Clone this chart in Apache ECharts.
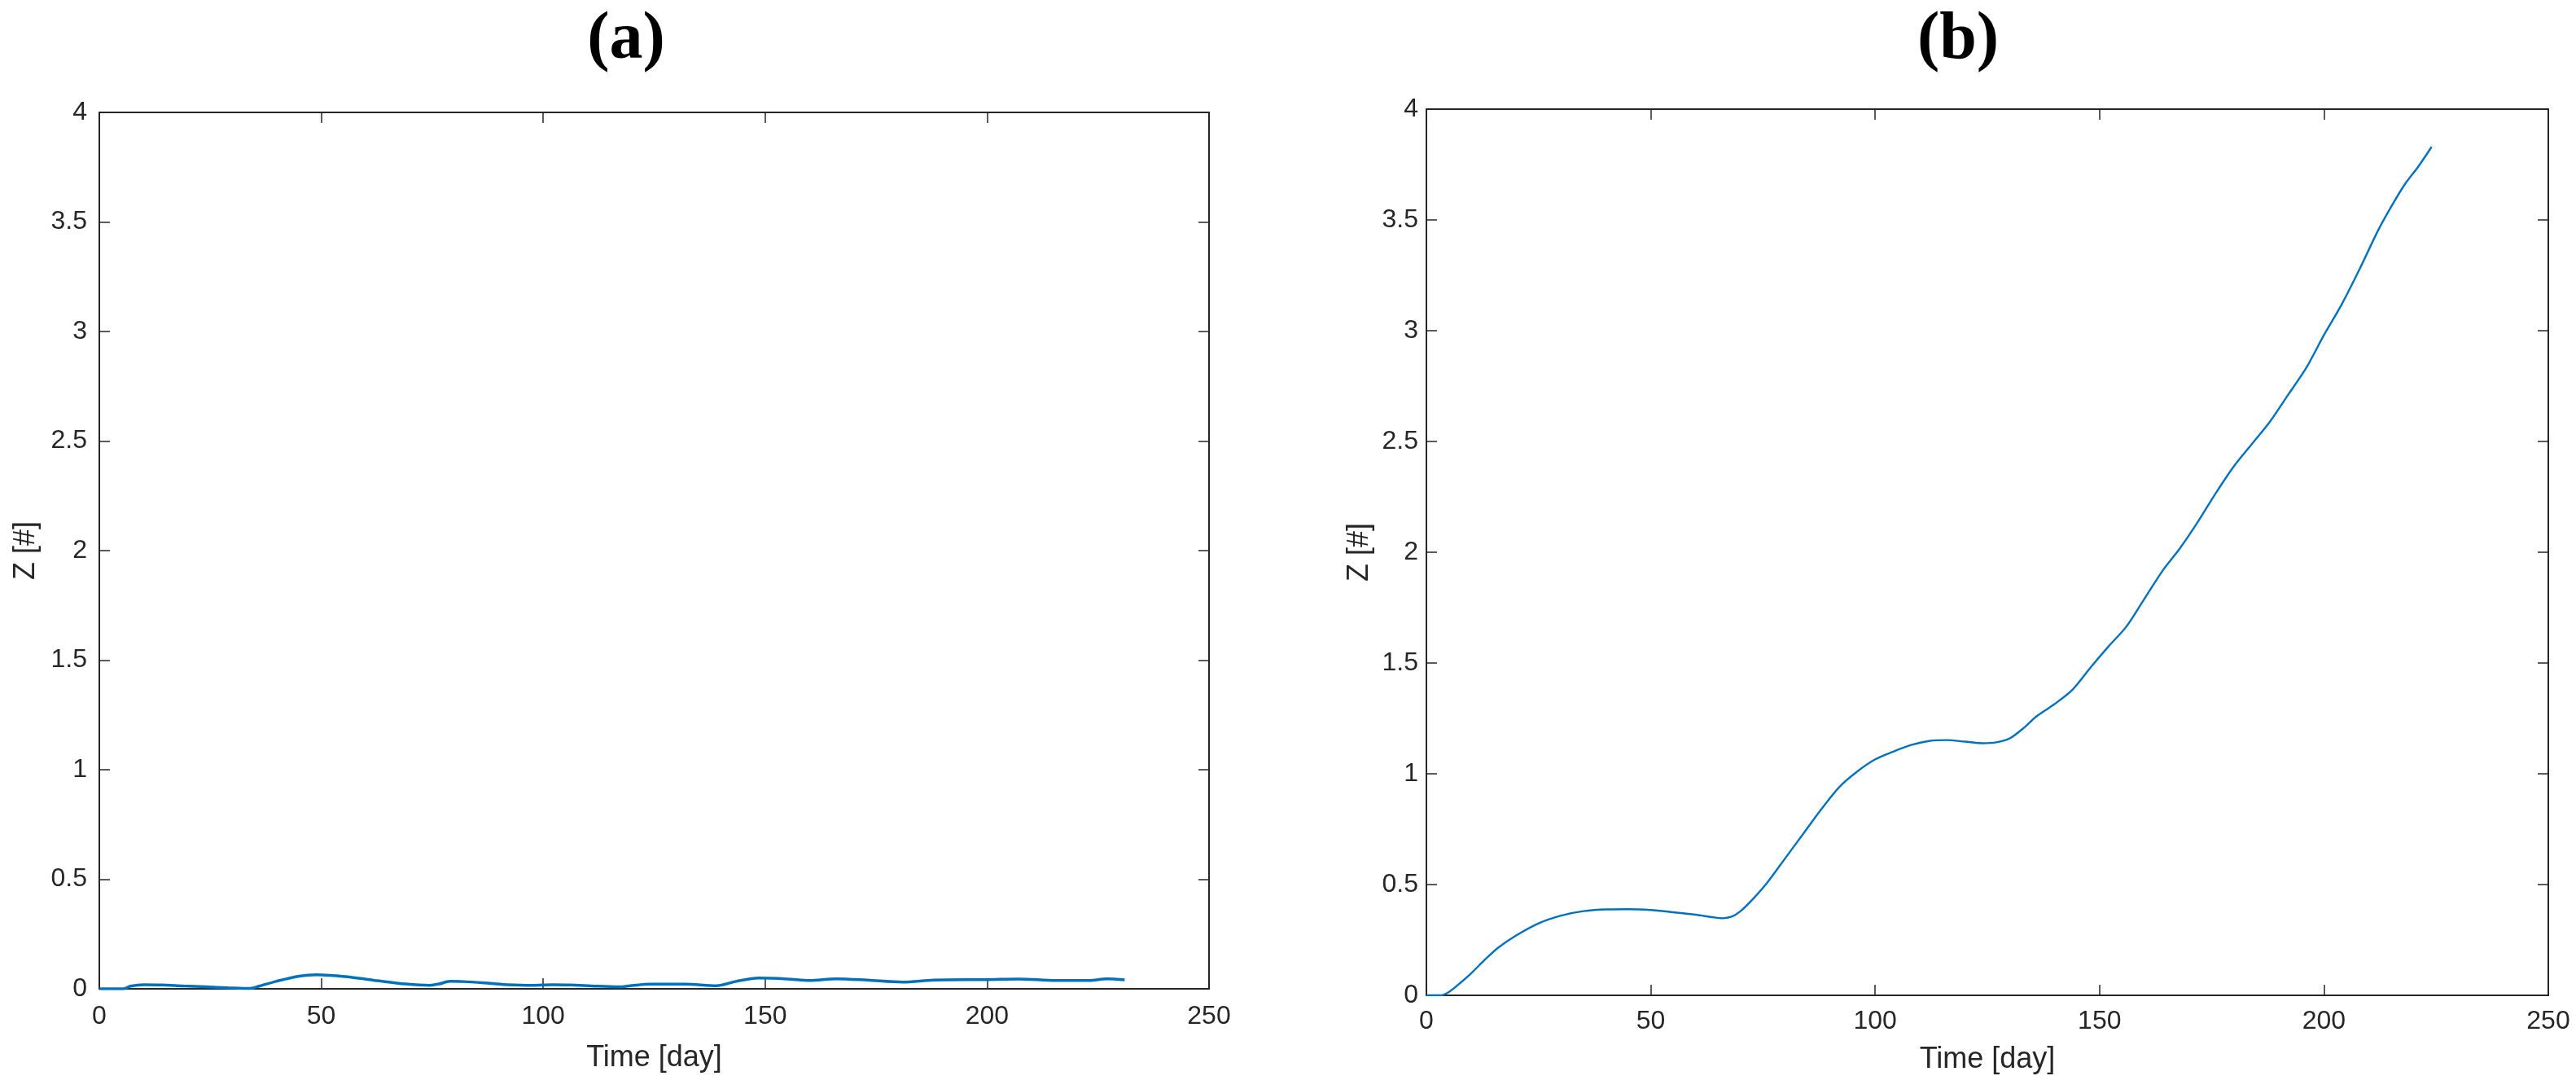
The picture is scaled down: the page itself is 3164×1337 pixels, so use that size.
<!DOCTYPE html>
<html>
<head>
<meta charset="utf-8">
<script src="https://cdn.jsdelivr.net/npm/echarts@6/dist/echarts.min.js"></script>
<style>
  html, body { margin: 0; padding: 0; background: #fff; }
  #main { width: 3164px; height: 1337px; }
</style>
</head>
<body>
<div id="main"></div>
<script>
var myChart = echarts.init(document.getElementById('main'));

// tick labels
var xTicks = [0, 50, 100, 150, 200, 250];
var yTicks = [0, 0.5, 1, 1.5, 2, 2.5, 3, 3.5, 4];

// panel (a)
var daysA = [0, 5.5, 7, 10, 14, 19, 24, 29, 34, 36, 40, 45, 49, 52, 57, 63, 69, 74.5, 76.5, 79, 82, 88, 92, 97.5, 102, 106, 112, 117, 120, 124, 132, 139, 143.5, 148.5, 155, 160, 166, 173, 181, 188, 200, 207, 215.5, 223, 227, 231];
var zA = [0, 0, 0.012, 0.019, 0.018, 0.013, 0.009, 0.005, 0.002, 0.012, 0.035, 0.058, 0.064, 0.061, 0.052, 0.036, 0.022, 0.016, 0.022, 0.034, 0.033, 0.025, 0.019, 0.016, 0.019, 0.018, 0.012, 0.009, 0.015, 0.021, 0.021, 0.014, 0.034, 0.049, 0.045, 0.038, 0.046, 0.040, 0.031, 0.040, 0.042, 0.045, 0.038, 0.038, 0.046, 0.041];

// panel (b)
var daysB = [0, 3, 5, 7.5, 10, 13, 16, 20, 25, 30, 35, 40, 45, 50, 55, 60, 64, 66, 68, 70, 73, 76, 80, 84, 88, 92, 96, 100, 104, 108, 112, 116, 120, 124, 127, 130, 133, 136, 140, 144, 148, 152, 156, 160, 164, 168, 172, 176, 180, 184, 188, 192, 196, 200, 204, 208, 212, 215, 218, 221, 224];
var zB = [0, 0, 0.015, 0.055, 0.10, 0.16, 0.215, 0.27, 0.325, 0.36, 0.38, 0.388, 0.389, 0.385, 0.375, 0.364, 0.352, 0.348, 0.355, 0.38, 0.44, 0.51, 0.62, 0.73, 0.84, 0.94, 1.01, 1.065, 1.10, 1.13, 1.148, 1.152, 1.145, 1.138, 1.142, 1.16, 1.205, 1.26, 1.315, 1.38, 1.48, 1.575, 1.665, 1.79, 1.915, 2.02, 2.14, 2.27, 2.39, 2.49, 2.59, 2.71, 2.83, 2.98, 3.12, 3.28, 3.45, 3.56, 3.66, 3.74, 3.83];

function pairs(xs, ys) {
  return xs.map(function (x, i) { return [x, ys[i]]; });
}

var axisColor = '#262626';
var fontFamily = '"Liberation Sans", Arial, Helvetica, sans-serif';

function xAxisOpt(grid, pos, showLabel, labelMargin, nameGap) {
  return {
    gridIndex: grid,
    type: 'value',
    position: pos,
    min: xTicks[0],
    max: xTicks[xTicks.length - 1],
    interval: xTicks[1] - xTicks[0],
    name: showLabel ? 'Time [day]' : '',
    nameLocation: 'middle',
    nameGap: nameGap,
    nameTextStyle: { color: axisColor, fontSize: 36, fontFamily: fontFamily },
    axisLine: { show: true, onZero: false, lineStyle: { color: axisColor, width: 2 } },
    axisTick: { show: true, inside: true, length: 13, lineStyle: { color: axisColor, width: 1.5 } },
    axisLabel: { show: showLabel, margin: labelMargin, color: axisColor, fontSize: 32, fontFamily: fontFamily },
    splitLine: { show: false }
  };
}

function yAxisOpt(grid, pos, showLabel, labelMargin, nameGap) {
  return {
    gridIndex: grid,
    type: 'value',
    position: pos,
    min: yTicks[0],
    max: yTicks[yTicks.length - 1],
    interval: yTicks[1] - yTicks[0],
    name: showLabel ? 'Z [#]' : '',
    nameLocation: 'middle',
    nameGap: nameGap,
    nameTextStyle: { color: axisColor, fontSize: 36, fontFamily: fontFamily },
    axisLine: { show: true, onZero: false, lineStyle: { color: axisColor, width: 2 } },
    axisTick: { show: true, inside: true, length: 13, lineStyle: { color: axisColor, width: 1.5 } },
    axisLabel: { show: showLabel, margin: labelMargin, color: axisColor, fontSize: 32, fontFamily: fontFamily },
    splitLine: { show: false }
  };
}

var titleStyle = { fontFamily: '"Liberation Serif", "Times New Roman", serif', fontWeight: 'bold', fontSize: 82, color: '#000' };

option = {
  backgroundColor: '#fff',
  animation: false,
  title: [
    { text: '(a)', left: 764, top: 4, textAlign: 'center', textStyle: titleStyle },
    { text: '(b)', left: 2400, top: 4, textAlign: 'center', textStyle: titleStyle }
  ],
  grid: [
    { left: 122, top: 138, width: 1363, height: 1076 },
    { left: 1752, top: 134, width: 1378, height: 1088 }
  ],
  xAxis: [
    xAxisOpt(0, 'bottom', true, 18, 67),
    xAxisOpt(0, 'top', false, 0, 0),
    xAxisOpt(1, 'bottom', true, 16, 61),
    xAxisOpt(1, 'top', false, 0, 0)
  ],
  yAxis: [
    yAxisOpt(0, 'left', true, 15, 72),
    yAxisOpt(0, 'right', false, 0, 0),
    yAxisOpt(1, 'left', true, 10, 64),
    yAxisOpt(1, 'right', false, 0, 0)
  ],
  series: [
    {
      name: 'a',
      type: 'line',
      xAxisIndex: 0,
      yAxisIndex: 0,
      data: pairs(daysA, zA),
      smooth: 0.3,
      showSymbol: false,
      lineStyle: { color: '#0072BD', width: 3.5 }
    },
    {
      name: 'b',
      type: 'line',
      xAxisIndex: 2,
      yAxisIndex: 2,
      data: pairs(daysB, zB),
      smooth: 0.3,
      showSymbol: false,
      lineStyle: { color: '#0072BD', width: 2.4 }
    }
  ]
};

myChart.setOption(option);
</script>
</body>
</html>
